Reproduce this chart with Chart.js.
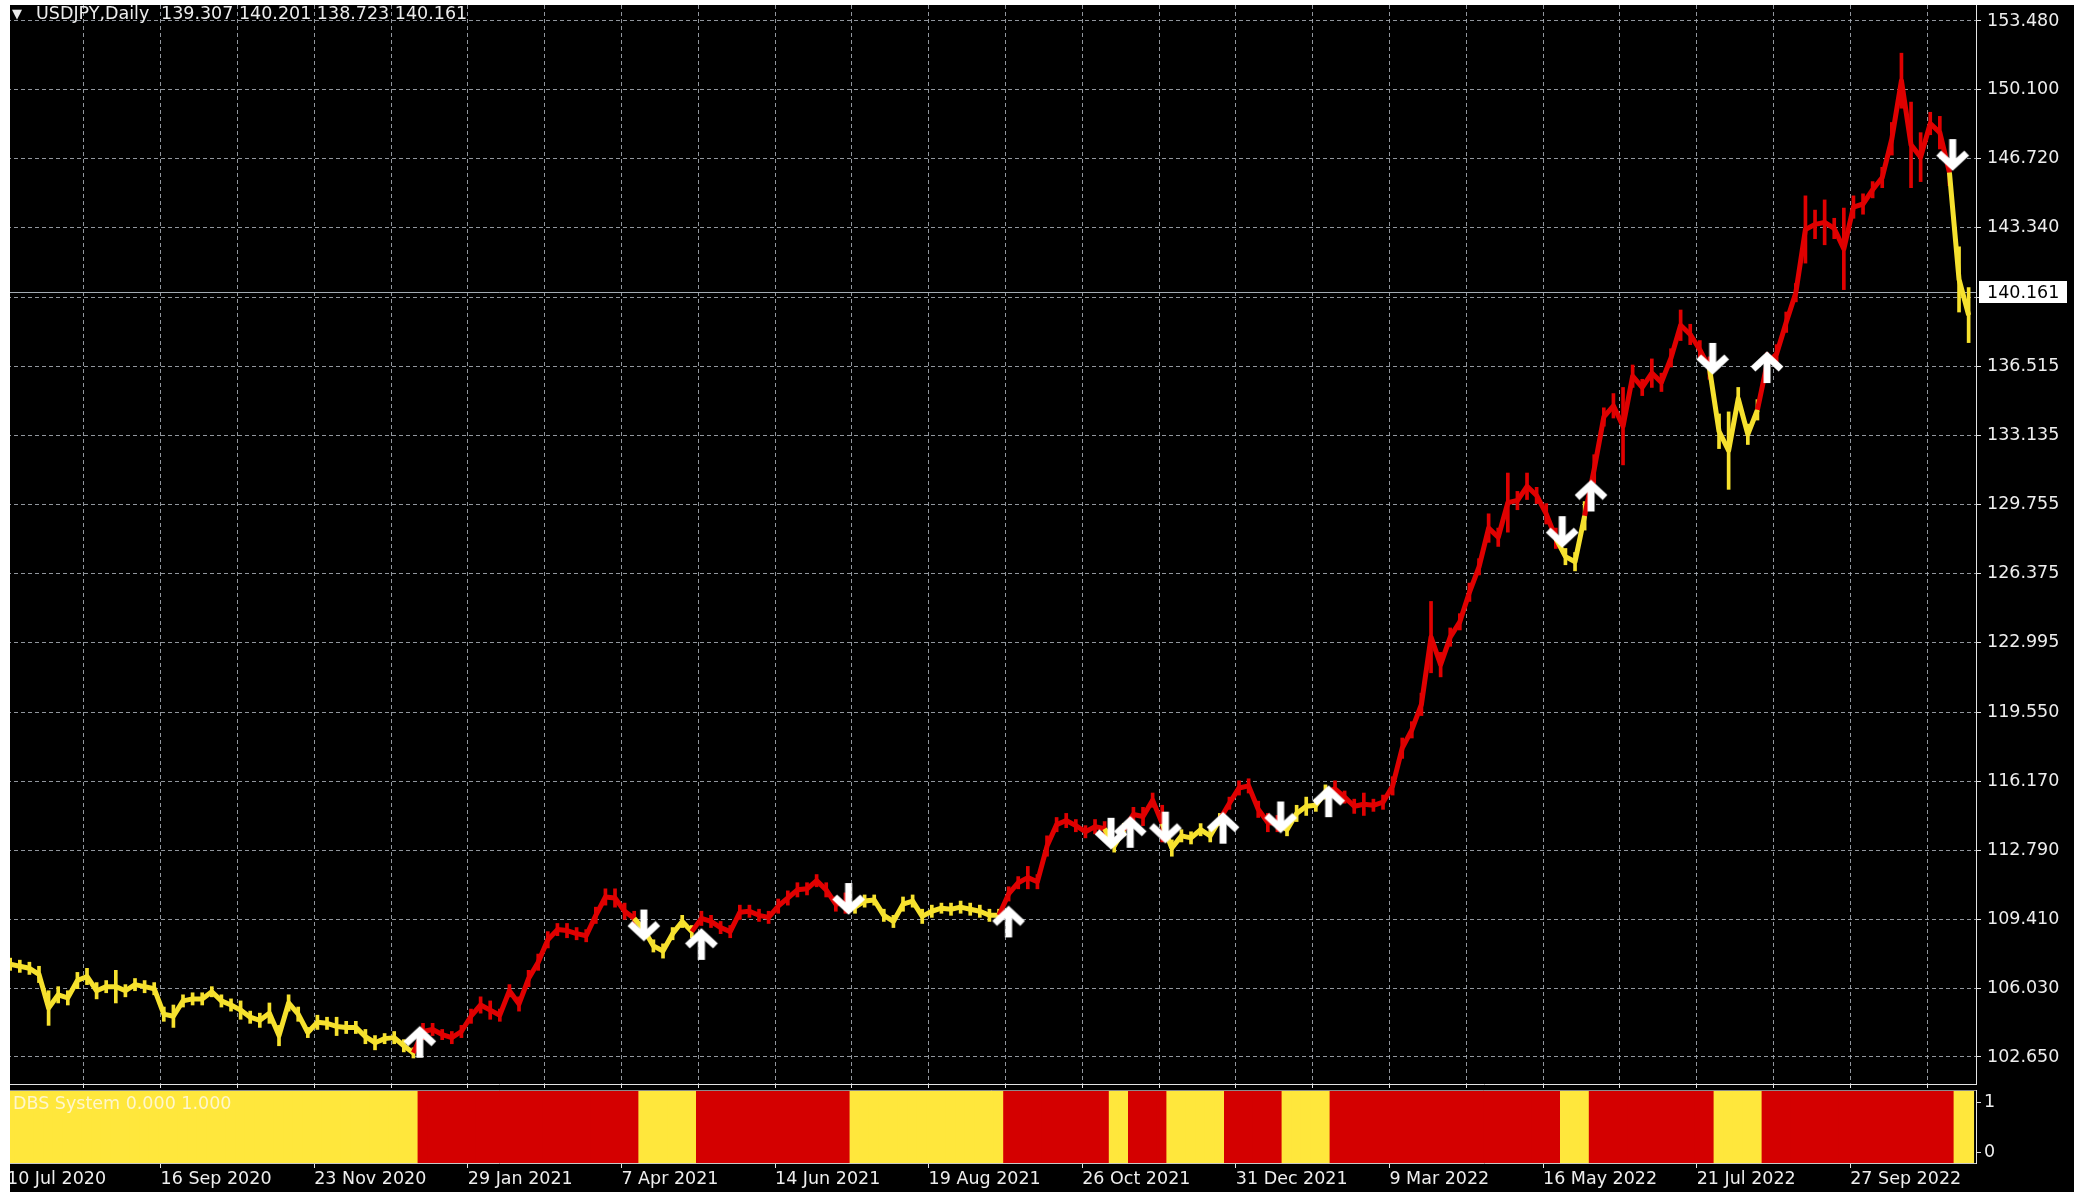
<!DOCTYPE html>
<html>
<head>
<meta charset="utf-8">
<title>USDJPY,Daily</title>
<script src="https://cdn.jsdelivr.net/npm/chart.js@4.4.3/dist/chart.umd.min.js"></script>
<style>
  html, body { margin: 0; padding: 0; background: #fff; }
  body { position: relative; width: 2074px; height: 1192px; overflow: hidden;
         font-family: "DejaVu Sans", Verdana, sans-serif; }
  #terminal { position: absolute; left: 10px; top: 5px; right: 0; bottom: 0; background: #000; }
  canvas { position: absolute; left: 0; }
  #main-chart { top: 0; }
  #dbs-chart { top: 1089px; }
  .margin { position: absolute; background: #fff; }
  .caption { position: absolute; font-size: 17.5px; line-height: 20px; white-space: pre; color: #ececec; }
</style>
</head>
<body>
<div id="terminal"></div>
<canvas id="main-chart" width="2074" height="1089"></canvas>
<canvas id="dbs-chart" width="2074" height="103"></canvas>
<div class="margin" style="left:0;top:0;width:10px;height:1192px"></div>
<div class="margin" style="left:0;top:0;width:2074px;height:5px"></div>
<div class="caption" style="left:12px;top:4px;font-size:13px">▼</div>
<div class="caption" id="symbol-name" style="left:36px;top:3px"></div>
<div class="caption" id="symbol-quote" style="left:161px;top:3px"></div>
<div class="caption" id="dbs-caption" style="left:13px;top:1093px;color:#fff6cc"></div>
<script>
const symbolName = "USDJPY,Daily";
const lastQuote = [139.307, 140.201, 138.723, 140.161]; // open, high, low, close of the last bar
const indicatorName = "DBS System";
const indicatorValues = [0, 1];

// x axis: daily bar 0 = 10 Jul 2020, one date label every 48 bars, a grid line every 24
const dateLabels = [
  "10 Jul 2020", "16 Sep 2020", "23 Nov 2020", "29 Jan 2021", "7 Apr 2021",
  "14 Jun 2021", "19 Aug 2021", "26 Oct 2021", "31 Dec 2021", "9 Mar 2022",
  "16 May 2022", "21 Jul 2022", "27 Sep 2022",
];
const labelEvery = 48;
const gridEvery = 24;

const priceTicks = [
  102.65, 106.03, 109.41, 112.79, 116.17, 119.55, 122.995, 126.375,
  129.755, 133.135, 136.515, 139.93, 143.34, 146.72, 150.1, 153.48,
];
const hiddenPriceTick = 139.93; // covered by the last price label

// price: one sample every 3 daily bars, starting at bar 1
const firstBar = 1;
const barStep = 3;
const sampleLows = [
  106.9, 106.8, 106.7, 106.3, 104.2, 105.3, 105.2, 106.0, 106.2, 105.5,
  105.8, 105.3, 105.6, 105.9, 105.8, 105.7, 104.4, 104.1, 105.1, 105.2,
  105.2, 105.6, 105.1, 104.9, 104.5, 104.3, 104.1, 104.3, 103.2, 104.9,
  104.4, 103.6, 104.0, 104.0, 103.7, 103.8, 103.8, 103.3, 103.0, 103.3,
  103.3, 102.9, 102.6, 103.5, 103.7, 103.5, 103.3, 103.6, 104.3, 104.8,
  104.5, 104.4, 105.6, 104.9, 106.1, 106.9, 108.0, 108.6, 108.5, 108.4,
  108.3, 109.2, 110.1, 110.0, 109.4, 109.1, 108.6, 107.8, 107.5, 108.4,
  109.0, 108.5, 109.1, 109.0, 108.7, 108.5, 109.4, 109.5, 109.3, 109.2,
  109.7, 110.1, 110.5, 110.6, 111.0, 110.5, 109.8, 109.7, 109.7, 110.0,
  110.1, 109.3, 109.0, 109.8, 110.0, 109.2, 109.5, 109.7, 109.6, 109.7,
  109.6, 109.5, 109.3, 109.3, 110.3, 110.9, 110.9, 110.9, 112.5, 113.7,
  113.9, 113.7, 113.4, 113.6, 113.5, 112.7, 113.5, 114.2, 114.0, 114.9,
  113.2, 112.5, 113.2, 113.1, 113.5, 113.2, 114.0, 114.8, 115.5, 115.6,
  114.4, 113.7, 113.7, 113.5, 114.2, 114.5, 114.7, 115.3, 115.4, 115.1,
  114.6, 114.5, 114.7, 114.8, 115.5, 117.3, 118.3, 119.4, 121.5, 121.3,
  122.8, 123.6, 125.0, 126.3, 127.9, 127.7, 128.4, 129.5, 130.0, 129.8,
  128.8, 127.6, 126.8, 126.5, 128.5, 130.8, 133.6, 134.0, 131.7, 135.5,
  135.1, 135.5, 135.3, 136.5, 137.8, 137.6, 136.9, 135.9, 132.5, 130.5,
  134.4, 132.7, 133.9, 136.1, 136.7, 138.2, 139.7, 141.6, 142.8, 142.5,
  142.8, 140.3, 143.8, 144.0, 144.8, 145.3, 146.9, 149.2, 145.3, 145.6,
  147.9, 147.2, 145.4, 139.2, 137.7,
];
const sampleHighs = [
  107.5, 107.4, 107.3, 107.1, 105.9, 106.1, 105.9, 106.8, 107.0, 106.3,
  106.4, 106.9, 106.2, 106.5, 106.4, 106.3, 105.1, 105.2, 105.7, 105.8,
  105.8, 106.1, 105.7, 105.5, 105.4, 104.9, 104.8, 105.3, 104.2, 105.7,
  105.1, 104.1, 104.7, 104.6, 104.6, 104.4, 104.4, 104.0, 103.7, 103.8,
  103.9, 103.5, 103.1, 104.3, 104.3, 104.0, 103.9, 104.2, 105.0, 105.6,
  105.4, 105.0, 106.2, 105.6, 106.9, 107.7, 108.8, 109.2, 109.2, 109.0,
  108.9, 110.0, 110.9, 110.9, 110.2, 109.8, 109.2, 108.4, 108.2, 109.0,
  109.6, 109.1, 109.8, 109.6, 109.3, 109.1, 110.1, 110.1, 109.9, 109.8,
  110.4, 110.8, 111.2, 111.2, 111.6, 111.2, 110.5, 110.7, 110.3, 110.6,
  110.6, 109.9, 109.6, 110.5, 110.6, 109.9, 110.1, 110.2, 110.2, 110.3,
  110.2, 110.1, 109.9, 109.9, 111.0, 111.5, 112.0, 111.6, 113.5, 114.4,
  114.6, 114.3, 114.0, 114.3, 114.2, 113.3, 114.1, 114.9, 114.9, 115.6,
  115.0, 113.3, 113.8, 113.7, 114.1, 113.8, 114.6, 115.4, 116.2, 116.3,
  115.2, 114.6, 114.5, 114.1, 115.0, 115.4, 115.3, 116.0, 116.2, 115.7,
  115.3, 115.6, 115.3, 115.5, 116.4, 118.3, 119.1, 120.5, 125.0, 122.5,
  123.7, 124.4, 125.9, 127.1, 129.3, 128.6, 131.3, 130.4, 131.3, 130.6,
  129.8, 128.6, 127.6, 127.4, 129.9, 132.2, 134.5, 135.2, 135.5, 136.6,
  135.9, 136.9, 136.2, 137.4, 139.3, 138.6, 137.8, 137.0, 134.2, 134.3,
  135.5, 133.7, 134.9, 137.2, 137.6, 139.2, 140.6, 144.9, 144.2, 144.7,
  143.8, 144.3, 144.9, 145.0, 145.6, 146.3, 148.5, 151.9, 149.5, 148.0,
  149.0, 148.8, 146.7, 142.4, 140.4,
];

// sample index where the DBS state flips: yellow, red, yellow, red ...
const regimeStarts = [0, 43, 66, 72, 88, 104, 115, 117, 121, 127, 133, 138, 162, 165, 178, 183, 203];

// signal arrows (daily bar, price, direction)
const signalBars = [129, 199, 217, 263, 313, 345, 351, 362, 380, 398, 413, 486, 495, 533, 550, 608];
const signalPrices = [103.4, 109.1, 108.2, 110.4, 109.3, 113.6, 113.7, 113.9, 113.9, 114.4, 115.2, 128.4, 130.2, 136.9, 136.5, 146.9];
const signalDirections = ["up", "down", "up", "down", "up", "down", "up", "down", "up", "down", "up", "down", "up", "down", "up", "down"];

const FONT = "'DejaVu Sans', Verdana, sans-serif";
const RED = "#e00000";
const YELLOW = "#f6e12e";
const PANEL_RED = "#d40000";
const PANEL_YELLOW = "#ffe73c";
const TEXT = "#eeeeee";
const AXIS = "#e4e4e4";
const GRID = "rgba(170, 176, 184, 0.85)";

const axisMaxBar = 615.3;
const priceMin = 101.324;
const priceMax = 154.264;
const panelMin = -0.22;
const panelMax = 1.24;

document.getElementById("symbol-name").textContent = symbolName;
document.getElementById("symbol-quote").textContent = lastQuote.map((v) => v.toFixed(3)).join(" ");
document.getElementById("dbs-caption").textContent =
  `${indicatorName} ${indicatorValues.map((v) => v.toFixed(3)).join(" ")}`;

const sampleBars = sampleLows.map((_, k) => firstBar + k * barStep);
const sampleState = sampleLows.map((_, k) => {
  let state = 0;
  regimeStarts.forEach((start, j) => {
    if (k >= start) state = j % 2;
  });
  return state; // 0 yellow, 1 red
});

function makeArrow(direction) {
  const canvas = document.createElement("canvas");
  canvas.width = 36;
  canvas.height = 36;
  const g = canvas.getContext("2d");
  g.strokeStyle = "#ffffff";
  g.lineWidth = 7;
  g.lineJoin = "miter";
  g.save();
  if (direction === "up") {
    g.translate(0, 36);
    g.scale(1, -1);
  }
  g.beginPath();
  g.moveTo(18, 2);
  g.lineTo(18, 28);
  g.stroke();
  g.beginPath();
  g.moveTo(4, 16);
  g.lineTo(18, 29);
  g.lineTo(32, 16);
  g.stroke();
  g.restore();
  return canvas;
}
const arrowImages = { up: makeArrow("up"), down: makeArrow("down") };

const currentPricePlugin = {
  id: "currentPrice",
  beforeDatasetsDraw(chart) {
    const { ctx, chartArea, scales } = chart;
    const y = Math.round(scales.y.getPixelForValue(lastQuote[3])) + 0.5;
    ctx.save();
    ctx.strokeStyle = "#a3abb3";
    ctx.lineWidth = 1;
    ctx.beginPath();
    ctx.moveTo(chartArea.left, y);
    ctx.lineTo(chartArea.right, y);
    ctx.stroke();
    ctx.restore();
  },
  afterDraw(chart) {
    const { ctx, scales } = chart;
    const yScale = scales.y;
    const y = Math.round(yScale.getPixelForValue(lastQuote[3]));
    ctx.save();
    ctx.fillStyle = "#ffffff";
    ctx.fillRect(yScale.left + 3, y - 11, 88, 22);
    ctx.fillStyle = "#000000";
    ctx.font = `17.5px ${FONT}`;
    ctx.textBaseline = "middle";
    ctx.fillText(lastQuote[3].toFixed(3), yScale.left + 11, y + 1);
    ctx.restore();
  },
};

const panelFramePlugin = {
  id: "panelFrame",
  afterDatasetsDraw(chart) {
    const { ctx, chartArea } = chart;
    ctx.save();
    ctx.strokeStyle = "#8a8a8a";
    ctx.lineWidth = 1;
    ctx.beginPath();
    ctx.moveTo(chartArea.left, chartArea.top + 0.5);
    ctx.lineTo(chartArea.right, chartArea.top + 0.5);
    ctx.stroke();
    ctx.restore();
  },
};

function gridTicks(every, max) {
  const ticks = [];
  for (let v = 0; v <= max; v += every) ticks.push({ value: v });
  return ticks;
}

new Chart(document.getElementById("main-chart"), {
  type: "bar",
  data: {
    datasets: [
      {
        type: "scatter",
        data: signalBars.map((bar, j) => ({ x: bar, y: signalPrices[j] })),
        pointStyle: signalDirections.map((d) => arrowImages[d]),
        pointRadius: 4,
        order: 0,
      },
      {
        type: "line",
        data: sampleBars.map((bar, k) => ({ x: bar, y: (sampleLows[k] + sampleHighs[k]) / 2 })),
        borderColor: YELLOW,
        borderWidth: 5,
        borderJoinStyle: "round",
        pointRadius: 0,
        tension: 0,
        segment: {
          borderColor: (ctx) => (sampleState[ctx.p1DataIndex] ? RED : YELLOW),
        },
        order: 1,
      },
      {
        type: "bar",
        data: sampleBars.map((bar, k) => ({ x: bar, y: [sampleLows[k], sampleHighs[k]] })),
        backgroundColor: sampleState.map((s) => (s ? RED : YELLOW)),
        borderWidth: 0,
        barThickness: 3,
        grouped: false,
        order: 2,
      },
    ],
  },
  options: {
    responsive: false,
    animation: false,
    events: [],
    layout: { padding: { left: 7, top: 5, right: 0, bottom: 0 } },
    plugins: { legend: { display: false }, tooltip: { enabled: false } },
    scales: {
      x: {
        type: "linear",
        position: "bottom",
        min: 0,
        max: axisMaxBar,
        offset: false,
        afterBuildTicks: (scale) => {
          scale.ticks = gridTicks(gridEvery, axisMaxBar);
        },
        afterFit: (scale) => {
          scale.height = 4;
          scale.paddingLeft = 0;
          scale.paddingRight = 0;
        },
        ticks: { display: false },
        grid: {
          color: GRID,
          lineWidth: 1,
          offset: false,
          drawTicks: true,
          tickLength: 4,
          tickColor: AXIS,
          tickBorderDash: [],
        },
        border: { display: true, color: AXIS, width: 1, dash: [4, 3] },
      },
      y: {
        type: "linear",
        position: "right",
        min: priceMin,
        max: priceMax,
        afterBuildTicks: (scale) => {
          scale.ticks = priceTicks.map((value) => ({ value }));
        },
        afterFit: (scale) => {
          scale.width = 98;
          scale.paddingTop = 0;
          scale.paddingBottom = 0;
        },
        ticks: {
          color: TEXT,
          font: { family: FONT, size: 17.5 },
          padding: 6,
          callback: (value) => (value === hiddenPriceTick ? "" : value.toFixed(3)),
        },
        grid: {
          color: GRID,
          lineWidth: 1,
          offset: false,
          drawTicks: true,
          tickLength: 5,
          tickColor: AXIS,
          tickBorderDash: [],
        },
        border: { display: true, color: AXIS, width: 1, dash: [4, 3] },
      },
    },
  },
  plugins: [currentPricePlugin],
});

new Chart(document.getElementById("dbs-chart"), {
  type: "bar",
  data: {
    datasets: [
      {
        data: sampleBars.map((bar) => ({ x: bar, y: [panelMin, panelMax] })),
        backgroundColor: sampleState.map((s) => (s ? PANEL_RED : PANEL_YELLOW)),
        borderWidth: 0,
        barThickness: 10.2,
        grouped: false,
      },
    ],
  },
  options: {
    responsive: false,
    animation: false,
    events: [],
    layout: { padding: { left: 7, top: 1, right: 0, bottom: 0 } },
    plugins: { legend: { display: false }, tooltip: { enabled: false } },
    scales: {
      x: {
        type: "linear",
        position: "bottom",
        min: 0,
        max: axisMaxBar,
        offset: false,
        afterBuildTicks: (scale) => {
          scale.ticks = dateLabels.map((_, n) => ({ value: n * labelEvery }));
        },
        afterFit: (scale) => {
          scale.height = 29;
          scale.paddingLeft = 0;
          scale.paddingRight = 0;
        },
        ticks: {
          color: TEXT,
          font: { family: FONT, size: 17.5 },
          padding: 1,
          align: "start",
          maxRotation: 0,
          autoSkip: false,
          callback: (value, index) => dateLabels[index],
        },
        grid: {
          display: true,
          drawOnChartArea: false,
          drawTicks: true,
          tickLength: 5,
          tickColor: AXIS,
          offset: false,
        },
        border: { display: true, color: "#c8c8c8", width: 1 },
      },
      y: {
        type: "linear",
        position: "right",
        min: panelMin,
        max: panelMax,
        afterBuildTicks: (scale) => {
          scale.ticks = indicatorValues.map((value) => ({ value }));
        },
        afterFit: (scale) => {
          scale.width = 98;
          scale.paddingTop = 0;
          scale.paddingBottom = 0;
        },
        ticks: {
          color: TEXT,
          font: { family: FONT, size: 17.5 },
          padding: 3,
          callback: (value) => String(value),
        },
        grid: {
          drawOnChartArea: false,
          drawTicks: true,
          tickLength: 5,
          tickColor: AXIS,
        },
        border: { display: true, color: AXIS, width: 1 },
      },
    },
  },
  plugins: [panelFramePlugin],
});
</script>
</body>
</html>
